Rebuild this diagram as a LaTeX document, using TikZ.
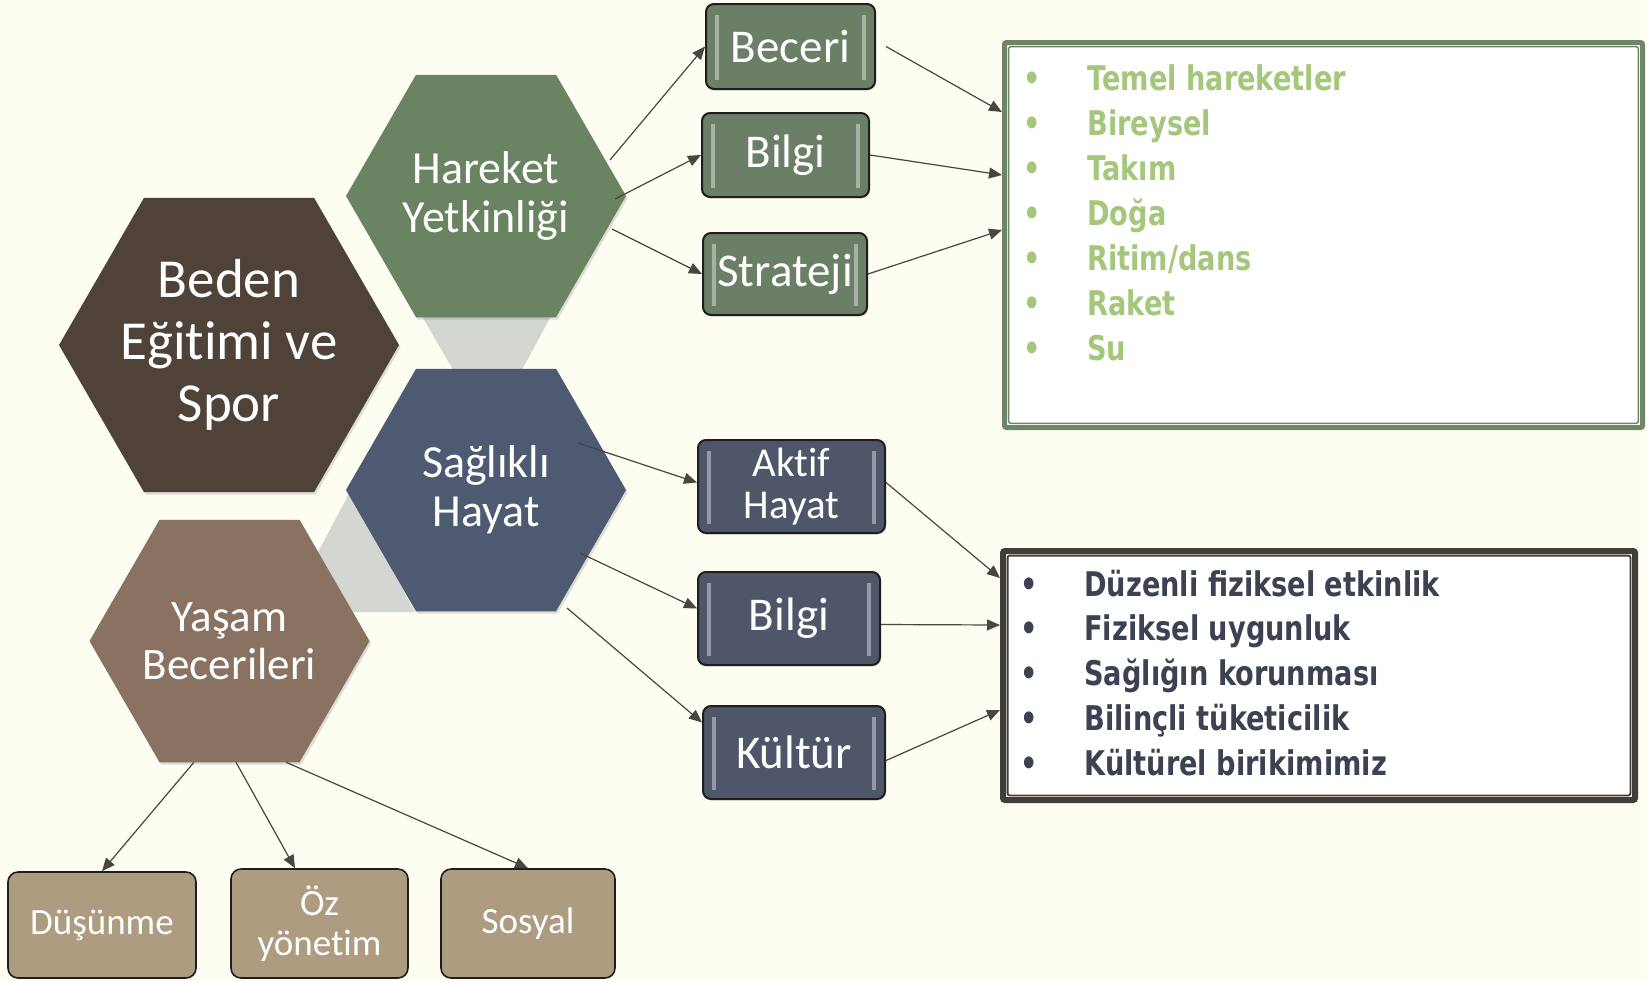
\documentclass[tikz,border=0pt]{standalone}
\usepackage{fontspec}
\setmainfont[Ligatures={NoCommon,NoRequired}, Contextuals=NoAlternate]{Carlito}
\newfontfamily\listfont[FakeStretch=0.8]{DejaVu Sans Bold}
\usetikzlibrary{shapes.geometric, arrows.meta, positioning, shadows}

\definecolor{paper}{HTML}{FDFDF1}
\definecolor{bedenbrown}{HTML}{4F4339}
\definecolor{harekgreen}{HTML}{6A8462}
\definecolor{saglikblue}{HTML}{4D5A72}
\definecolor{yasamtaupe}{HTML}{8A7262}
\definecolor{linkgray}{HTML}{D4D6D2}
\definecolor{boxgreen}{HTML}{6B7F67}
\definecolor{boxblue}{HTML}{4F566A}
\definecolor{boxtan}{HTML}{AE9C80}
\definecolor{boxline}{HTML}{1E1E1E}
\definecolor{arrowgray}{HTML}{4B4541}
\definecolor{listgreen}{HTML}{6E8568}
\definecolor{listgreentext}{HTML}{A4C77C}
\definecolor{listdark}{HTML}{433D38}
\definecolor{listdarktext}{HTML}{3C4252}

\tikzstyle{hexa} = [regular polygon, regular polygon sides=6, inner sep=-12pt, outer sep=0pt, text=white, align=center, drop shadow={opacity=0.25,shadow xshift=0.8pt,shadow yshift=-1.2pt}]
\tikzstyle{bighexa} = [hexa, minimum size=170pt, fill=bedenbrown, font=\fontsize{27.5}{31}\selectfont]
\tikzstyle{smallhexa} = [hexa, minimum size=140pt, font=\fontsize{23}{24.5}\selectfont]
\tikzstyle{bevel} = [path picture={
  \draw[white, opacity=0.4, line width=1.8pt]
    ([xshift=5.5pt,yshift=-5.5pt]path picture bounding box.north west) -- ([xshift=5.5pt,yshift=4.5pt]path picture bounding box.south west)
    ([xshift=-5.5pt,yshift=-5.5pt]path picture bounding box.north east) -- ([xshift=-5.5pt,yshift=4.5pt]path picture bounding box.south east);}]
\tikzstyle{gbox} = [rectangle, rounded corners=4pt, draw=boxline, line width=1pt, fill=boxgreen, text=white, inner sep=2pt, align=center, minimum width=83.5pt, minimum height=42pt, font=\fontsize{23.5}{25}\selectfont, bevel, drop shadow={opacity=0.2,shadow xshift=0.6pt,shadow yshift=-0.8pt}]
\tikzstyle{bbox} = [gbox, fill=boxblue, minimum width=92pt, minimum height=46.5pt]
\tikzstyle{tbox} = [rectangle, rounded corners=5pt, draw=boxline, line width=0.8pt, fill=boxtan, text=white, inner sep=2pt, align=center, minimum height=54.5pt, font=\fontsize{18.5}{20}\selectfont]
\tikzstyle{hlist} = [rectangle, rounded corners=1pt, draw=listgreen, line width=2.5pt, fill=white, inner sep=0pt, minimum width=319pt, minimum height=192.5pt, path picture={\draw[listgreen, line width=0.75pt] ([shift={(2.1pt,-2.1pt)}]path picture bounding box.north west) rectangle ([shift={(-2.1pt,2.1pt)}]path picture bounding box.south east);}]
\tikzstyle{dlist} = [hlist, draw=listdark, line width=3pt, minimum width=316pt, minimum height=124.5pt, path picture={\draw[listdark, line width=0.9pt] ([shift={(2.3pt,-2.3pt)}]path picture bounding box.north west) rectangle ([shift={(-2.3pt,2.3pt)}]path picture bounding box.south east);}]
\tikzstyle{gitem} = [anchor=base west, inner sep=0pt, text=listgreentext, font=\listfont\fontsize{17}{20}\selectfont]
\tikzstyle{ditem} = [gitem, text=listdarktext]
\tikzstyle{arrow} = [line width=0.6pt, draw=arrowgray, -{Triangle[length=6.5pt,width=5.5pt]}]

\newcommand{\blt}{\llap{\textbullet\hspace{23.5pt}}}

\begin{document}
\begin{tikzpicture}[x=0.5pt, y=-0.5pt]

\useasboundingbox (0,0) rectangle (1647,980);
\fill[paper] (0,0) rectangle (1647,980);

% gray links between the hexagons
\fill[linkgray] (419.5,312) -- (553.2,312) -- (520.8,372) -- (454.3,372) -- cycle;
\fill[linkgray] (350,492) -- (286,612) -- (415,612) -- cycle;

\node (bedn) [bighexa] at (229,345) {Beden\\Eğitimi ve\\Spor};
\node (hare) [smallhexa, fill=harekgreen] at (486,196) {Hareket\\Yetkinliği};
\node (sagl) [smallhexa, fill=saglikblue] at (486,490) {Sağlıklı\\Hayat};
\node (yasm) [smallhexa, fill=yasamtaupe, font=\fontsize{22.5}{24}\selectfont] at (229.5,641) {Yaşam\\Becerileri};

\node (becr) [gbox, minimum width=84.5pt, minimum height=42.5pt] at (790.5,46.5) {Beceri};
\node (bilg1) [gbox] at (785.5,155) {Bilgi};
\node (strj) [gbox, minimum width=82pt, minimum height=41pt] at (785,274) {Strateji};

\node (aktf) [bbox, minimum width=93.5pt, font=\fontsize{20.5}{21}\selectfont] at (791.5,486.5) {Aktif\\Hayat};
\node (bilg2) [bbox, minimum width=91pt] at (789,618.5) {Bilgi};
\node (kltr) [bbox, minimum width=91pt] at (794,752.5) {Kültür};

\node (dsnm) [tbox, minimum width=94pt, minimum height=53pt] at (102,925) {Düşünme};
\node (ozyn) [tbox, minimum width=88.5pt] at (319.5,923.5) {Öz\\yönetim};
\node (sosy) [tbox, minimum width=87pt] at (528,923.5) {Sosyal};

\node (hlst) [hlist] at (1323.5,235) {};
\node (dlst) [dlist] at (1319,675.5) {};

\node (hl1) [gitem] at (1087,90) {\blt Temel hareketler};
\node (hl2) [gitem, below=22.5pt of hl1.base west, anchor=base west] {\blt Bireysel};
\node (hl3) [gitem, below=22.5pt of hl2.base west, anchor=base west] {\blt Takım};
\node (hl4) [gitem, below=22.5pt of hl3.base west, anchor=base west] {\blt Doğa};
\node (hl5) [gitem, below=22.5pt of hl4.base west, anchor=base west] {\blt Ritim/dans};
\node (hl6) [gitem, below=22.5pt of hl5.base west, anchor=base west] {\blt Raket};
\node (hl7) [gitem, below=22.5pt of hl6.base west, anchor=base west] {\blt Su};

\node (dl1) [ditem] at (1084,596) {\blt Düzenli fiziksel etkinlik};
\node (dl2) [ditem, below=22.4pt of dl1.base west, anchor=base west] {\blt Fiziksel uygunluk};
\node (dl3) [ditem, below=22.4pt of dl2.base west, anchor=base west] {\blt Sağlığın korunması};
\node (dl4) [ditem, below=22.4pt of dl3.base west, anchor=base west] {\blt Bilinçli tüketicilik};
\node (dl5) [ditem, below=22.4pt of dl4.base west, anchor=base west] {\blt Kültürel birikimimiz};

\draw [arrow] ([xshift=62pt,yshift=18pt]hare.center) -- (becr.west);
\draw [arrow] ([xshift=64.5pt,yshift=-1.5pt]hare.center) -- (bilg1.west);
\draw [arrow] ([xshift=63pt,yshift=-16.5pt]hare.center) -- (strj.west);
\draw [arrow] ([xshift=5pt]becr.east) -- ([yshift=-36pt]hlst.north west);
\draw [arrow] (bilg1.east) -- ([yshift=-67.5pt]hlst.north west);
\draw [arrow] (strj.east) -- ([yshift=-95pt]hlst.north west);

\draw [arrow] ([xshift=46pt,yshift=23.5pt]sagl.center) -- ([yshift=2pt]aktf.west);
\draw [arrow] ([xshift=47pt,yshift=-31.5pt]sagl.center) -- ([yshift=5pt]bilg2.west);
\draw [arrow] ([xshift=40.5pt,yshift=-59pt]sagl.center) -- ([yshift=15pt]kltr.west);
\draw [arrow] ([yshift=2pt]aktf.east) -- ([yshift=-15pt]dlst.north west);
\draw [arrow] ([yshift=-3pt]bilg2.east) -- ([yshift=-38.5pt]dlst.north west);
\draw [arrow] ([yshift=-4pt]kltr.east) -- ([yshift=-81pt]dlst.north west);

\draw [arrow] ([xshift=-17.75pt]yasm.south) -- (dsnm.north);
\draw [arrow] ([xshift=3.25pt]yasm.south) -- ([xshift=-12.25pt]ozyn.north);
\draw [arrow] ([xshift=28.25pt]yasm.south) -- (sosy.north);

\end{tikzpicture}
\end{document}
